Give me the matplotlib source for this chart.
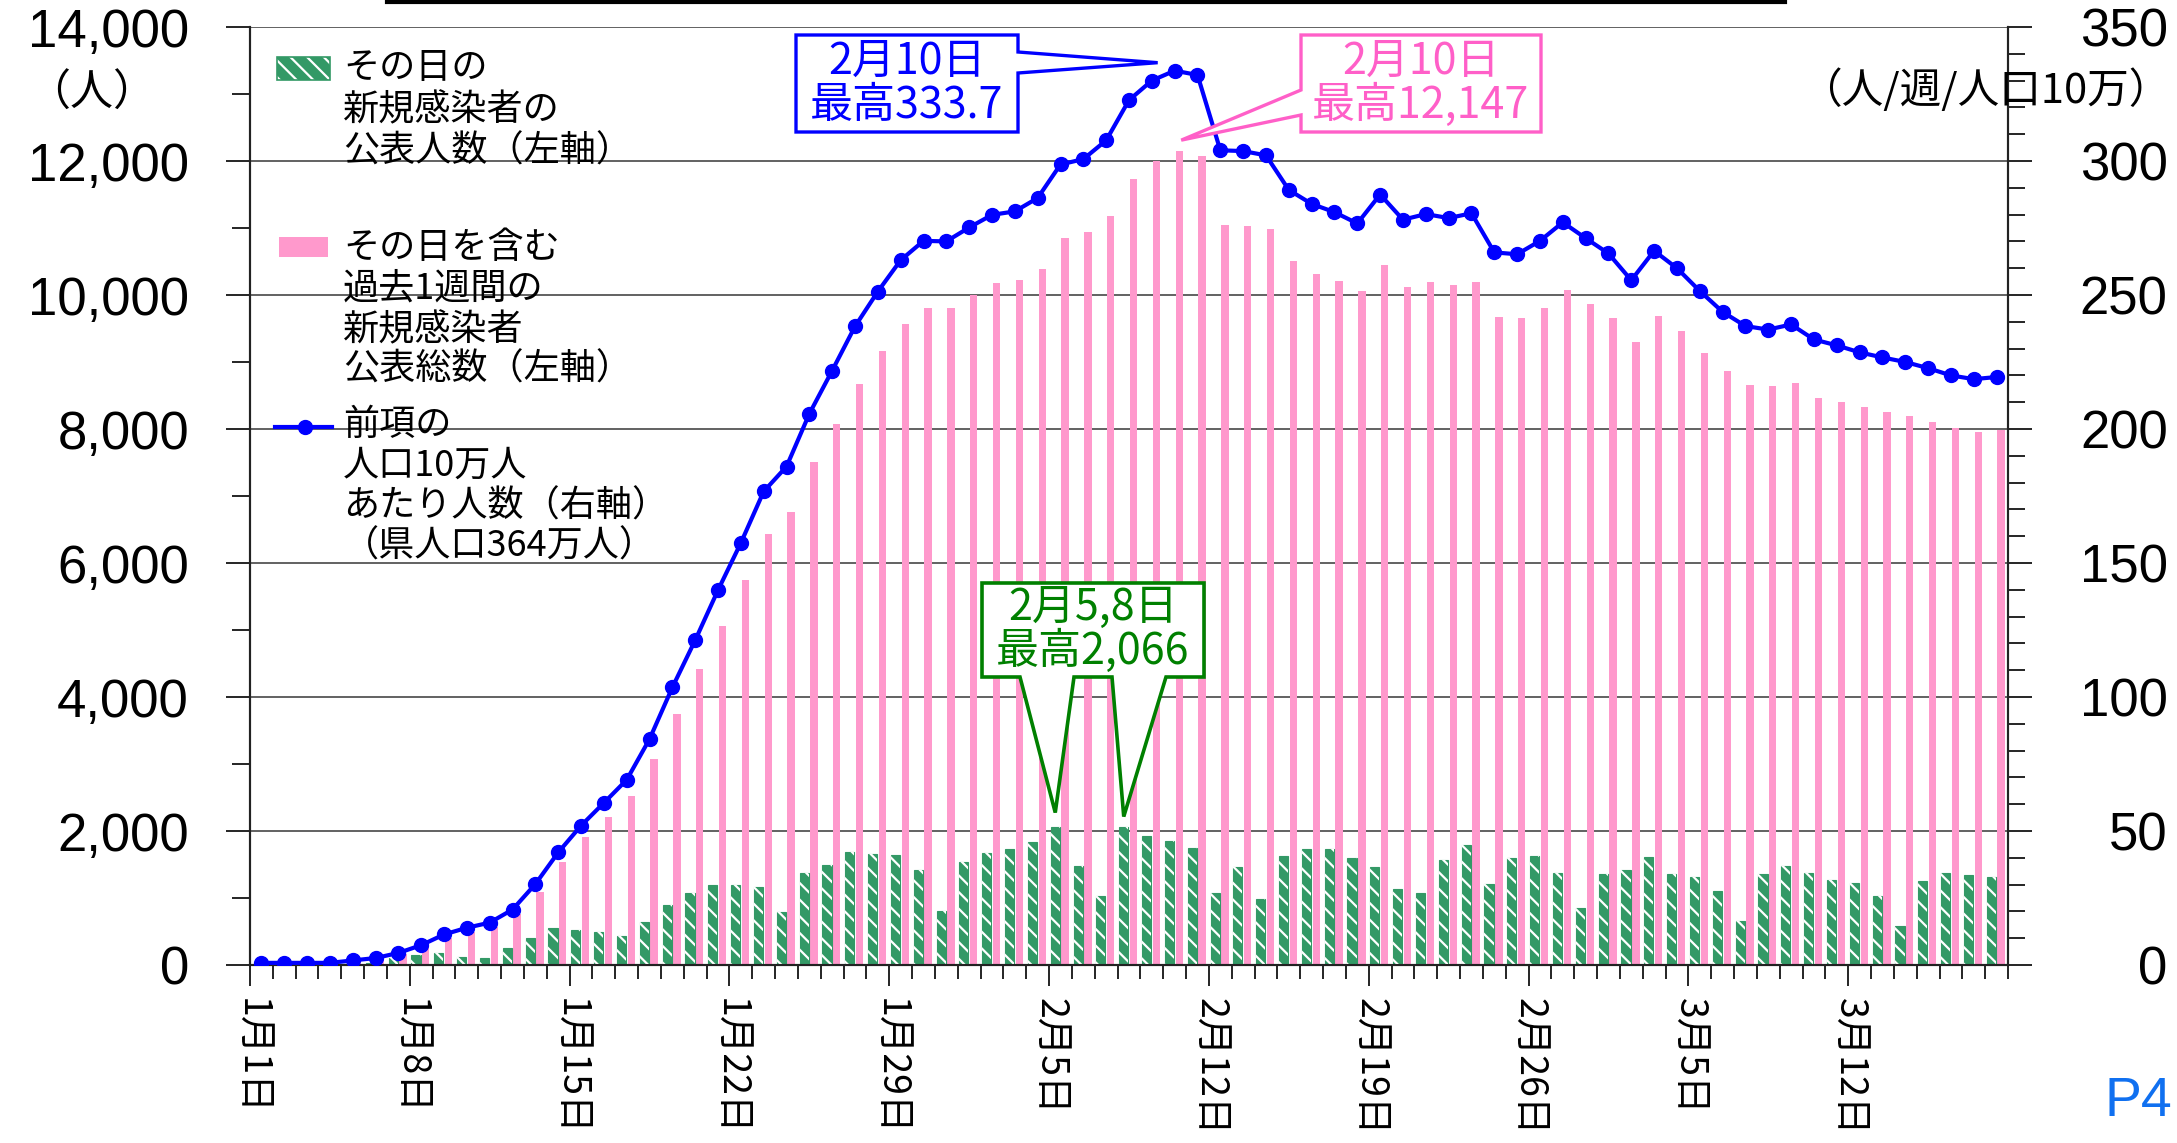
import matplotlib
matplotlib.use("Agg")
import matplotlib.pyplot as plt
from matplotlib.patches import Rectangle, Polygon
from matplotlib.lines import Line2D
import numpy as np

# ---------------- data ----------------
dates_labels = ["1月1日", "1月8日", "1月15日", "1月22日", "1月29日", "2月5日",
                "2月12日", "2月19日", "2月26日", "3月5日", "3月12日"]

daily_new = [3, 2, 1, 5, 15, 35, 110, 148, 183, 119, 102, 248, 407, 547, 522, 488,
             438, 647, 900, 1080, 1189, 1189, 1169, 791, 1368, 1497, 1687, 1652, 1637,
             1418, 806, 1542, 1667, 1731, 1831, 2066, 1484, 1035, 2066, 1923, 1844,
             1750, 1070, 1464, 986, 1622, 1735, 1735, 1592, 1464, 1129, 1070, 1573,
             1785, 1208, 1592, 1622, 1380, 848, 1365, 1415, 1607, 1351, 1306, 1099,
             656, 1351, 1479, 1380, 1272, 1223, 1035, 587, 1257, 1380, 1341, 1306]

weekly_total = [30, 30, 28, 30, 55, 95, 160, 265, 410, 500, 572, 755, 1095, 1540, 1905,
                2205, 2525, 3075, 3750, 4420, 5060, 5740, 6430, 6765, 7500, 8080, 8670,
                9160, 9570, 9810, 9810, 10000, 10180, 10230, 10390, 10850, 10935, 11185,
                11730, 12000, 12147, 12070, 11045, 11025, 10980, 10510, 10320, 10210,
                10060, 10450, 10120, 10195, 10150, 10195, 9670, 9650, 9810, 10070, 9860,
                9650, 9300, 9685, 9460, 9135, 8870, 8650, 8635, 8685, 8470, 8400, 8330,
                8260, 8200, 8110, 8010, 7960, 7990]

per_100k = [0.8, 0.8, 0.8, 0.8, 1.7, 2.6, 4.5, 7.4, 11.4, 13.9, 15.8, 20.7, 30.2, 42.0,
            52.0, 60.5, 69.1, 84.3, 103.6, 121.2, 139.9, 157.5, 176.7, 186.0, 205.7,
            221.8, 238.3, 251.3, 263.0, 270.2, 270.0, 275.2, 279.9, 281.2, 286.2, 298.7,
            300.7, 307.7, 322.7, 330.0, 333.7, 332.1, 304.0, 303.7, 302.1, 289.2, 284.0,
            280.9, 276.7, 287.5, 278.1, 280.2, 278.7, 280.5, 265.9, 265.2, 270.2, 277.1,
            271.2, 265.5, 255.5, 266.5, 260.0, 251.5, 243.7, 238.4, 237.1, 239.0, 233.4,
            231.2, 228.6, 226.7, 225.0, 222.7, 220.0, 218.6, 219.4]

left_ticks = list(range(0, 14001, 2000))
right_ticks = list(range(0, 351, 50))

# ---------------- figure ----------------
W, H, DPI = 2177, 1143, 100
fig = plt.figure(figsize=(W / DPI, H / DPI), dpi=DPI)
plt.rcParams["hatch.linewidth"] = 1.6

CJK = ["Noto Sans CJK JP", "DejaVu Sans"]
NUM = ["Liberation Sans", "DejaVu Sans"]


def fx(x):
    return x / W


def fy(y):
    return 1 - y / H


AX_L, AX_R, AX_T, AX_B = 250, 2008, 27, 965
ax = fig.add_axes([fx(AX_L), fy(AX_B), (AX_R - AX_L) / W, (AX_B - AX_T) / H])
ax2 = ax.twinx()

n = len(daily_new)
x = np.arange(n)

PINK = "#FF99CC"
GREEN = "#339966"
BLUE = "#0000FF"

ax.bar(x + 0.2, weekly_total, width=0.32, color=PINK, zorder=2, linewidth=0)
ax.bar(x - 0.23, daily_new, width=0.40, color=GREEN, edgecolor=GREEN,
       linewidth=0.8, zorder=3)
ax.bar(x - 0.23, daily_new, width=0.40, facecolor="none", edgecolor="white",
       hatch="\\\\", linewidth=0, zorder=4)

ax2.plot(x, per_100k, color=BLUE, lw=3, marker="o", ms=10, zorder=5)

ax.set_xlim(-0.5, n - 0.5)
ax.set_ylim(0, 14000)
ax2.set_ylim(0, 350)

# grid
ax.set_axisbelow(True)
ax.yaxis.grid(True, color="#555555", lw=1.3, zorder=0)

# spines
for a in (ax, ax2):
    a.spines["top"].set_visible(False)
    for s in ("left", "right", "bottom"):
        a.spines[s].set_color("#222222")
        a.spines[s].set_linewidth(1.5)

# x ticks
major_x = np.arange(-0.5, 70, 7)
ax.set_xticks(major_x)
ax.set_xticklabels(dates_labels, rotation=270, fontsize=27, family=CJK)
ax.set_xticks(np.arange(-0.5, n, 1), minor=True)
ax.tick_params(axis="x", which="major", direction="out", length=15, width=1.2, pad=9)
ax.tick_params(axis="x", which="minor", direction="out", length=10, width=1.2)

# left y ticks
ax.set_yticks(left_ticks)
ax.set_yticklabels([f"{v:,}" for v in left_ticks], fontsize=38, family=NUM)
ax.set_yticks(list(range(1000, 14000, 2000)), minor=True)
ax.tick_params(axis="y", which="major", direction="out", length=17, width=1.2, pad=27)
ax.tick_params(axis="y", which="minor", direction="out", length=13, width=1.2)

# right y ticks
ax2.set_yticks(right_ticks)
ax2.set_yticklabels([str(v) for v in right_ticks], fontsize=38, family=NUM)
ax2.set_yticks([v for v in range(10, 350, 10) if v % 50], minor=True)
ax2.tick_params(axis="y", which="major", direction="out", length=17, width=1.2, pad=98)
ax2.tick_params(axis="y", which="minor", direction="out", length=12, width=1.2)
for t in ax2.get_yticklabels():
    t.set_horizontalalignment("right")

# ---------------- helpers for overlay in pixel coords ----------------
def to_px(axis, xv, yv):
    dx, dy = axis.transData.transform((xv, yv))
    return dx, H - dy


def poly(points, edge, lw=2.4):
    pts = [(fx(px), fy(py)) for px, py in points]
    p = Polygon(pts, closed=True, facecolor="white", edgecolor=edge, lw=lw,
                joinstyle="miter", transform=fig.transFigure, zorder=6)
    fig.add_artist(p)


# title underline (cut off at top)
fig.add_artist(Line2D([fx(387), fx(1785)], [fy(1.5), fy(1.5)], color="black", lw=3,
                      transform=fig.transFigure))

# axis unit labels
fig.text(fx(92), fy(94), "（人）", ha="center", va="center", fontsize=31, family=CJK)
fig.text(fx(2170), fy(90), "（人/週/人口10万）", ha="right", va="center", fontsize=30,
         family=CJK)

# ---------------- legend ----------------
LEG_FS = 26
TX = 343
# green hatched patch
fig.add_artist(Rectangle((fx(277), fy(80)), (330 - 277) / W, (80 - 57) / H,
                         facecolor=GREEN, edgecolor="white", hatch="\\\\", lw=0,
                         transform=fig.transFigure))
fig.add_artist(Rectangle((fx(277), fy(80)), (330 - 277) / W, (80 - 57) / H,
                         facecolor="none", edgecolor=GREEN, lw=1.2,
                         transform=fig.transFigure))
for txt, yy in zip(["その日の", "新規感染者の", "公表人数（左軸）"], [68, 110, 152]):
    fig.text(fx(TX), fy(yy), txt, ha="left", va="center", fontsize=LEG_FS, family=CJK)

# pink patch
fig.add_artist(Rectangle((fx(279), fy(257)), (328 - 279) / W, (257 - 237) / H,
                         facecolor=PINK, edgecolor="none", transform=fig.transFigure))
for txt, yy in zip(["その日を含む", "過去1週間の", "新規感染者", "公表総数（左軸）"],
                   [248, 289, 330, 370]):
    fig.text(fx(TX), fy(yy), txt, ha="left", va="center", fontsize=LEG_FS, family=CJK)

# blue line patch
fig.add_artist(Line2D([fx(275), fx(332)], [fy(427), fy(427)], color=BLUE, lw=3,
                      transform=fig.transFigure))
fig.add_artist(Line2D([fx(305)], [fy(427)], color=BLUE, marker="o", ms=10,
                      transform=fig.transFigure))
for txt, yy in zip(["前項の", "人口10万人", "あたり人数（右軸）", "（県人口364万人）"],
                   [425, 466, 507, 547]):
    fig.text(fx(TX), fy(yy), txt, ha="left", va="center", fontsize=LEG_FS, family=CJK)

# ---------------- annotations ----------------
ANN_FS = 31
# blue peak
ib = int(np.argmax(per_100k))
bx, by = to_px(ax2, ib, per_100k[ib])
tip_b = (bx - 17, by - 8)
poly([(796, 35), (1018, 35), (1018, 52), tip_b, (1018, 73), (1018, 132), (796, 132)], BLUE)
fig.text(fx(907), fy(62), "2月10日", ha="center", va="center", color=BLUE,
         fontsize=ANN_FS, family=CJK, zorder=7)
fig.text(fx(907), fy(106), "最高333.7", ha="center", va="center", color=BLUE,
         fontsize=ANN_FS, family=CJK, zorder=7)

# pink peak
PINK_T = "#FF5FC8"
ip = int(np.argmax(weekly_total))
px_, py_ = to_px(ax, ip + 0.2, weekly_total[ip])
tip_p = (px_ + 2, py_ - 11)
poly([(1301, 35), (1541, 35), (1541, 132), (1301, 132), (1301, 115), tip_p, (1301, 90)],
     PINK_T)
fig.text(fx(1421), fy(62), "2月10日", ha="center", va="center", color=PINK_T,
         fontsize=ANN_FS, family=CJK, zorder=7)
fig.text(fx(1421), fy(106), "最高12,147", ha="center", va="center", color=PINK_T,
         fontsize=ANN_FS, family=CJK, zorder=7)

# green peaks (two days with the same max)
GREEN_T = "#008000"
mx = max(daily_new)
g_idx = [i for i, v in enumerate(daily_new) if v == mx]
g1 = to_px(ax, g_idx[0] - 0.23, mx)
g2 = to_px(ax, g_idx[1] - 0.23, mx)
tip_g1 = (g1[0], g1[1] - 14)
tip_g2 = (g2[0], g2[1] - 10)
poly([(982, 583), (1204, 583), (1204, 677), (1166, 677), tip_g2, (1112, 677),
      (1074, 677), tip_g1, (1020, 677), (982, 677)], GREEN_T, lw=2.6)
fig.text(fx(1093), fy(608), "2月5,8日", ha="center", va="center", color=GREEN_T,
         fontsize=ANN_FS, family=CJK, zorder=7)
fig.text(fx(1093), fy(652), "最高2,066", ha="center", va="center", color=GREEN_T,
         fontsize=ANN_FS, family=CJK, zorder=7)

# page mark
fig.text(fx(2138), fy(1102), "P4", ha="center", va="center", color="#1070F0",
         fontsize=40, family=NUM)

fig.savefig("out.png", dpi=DPI)
